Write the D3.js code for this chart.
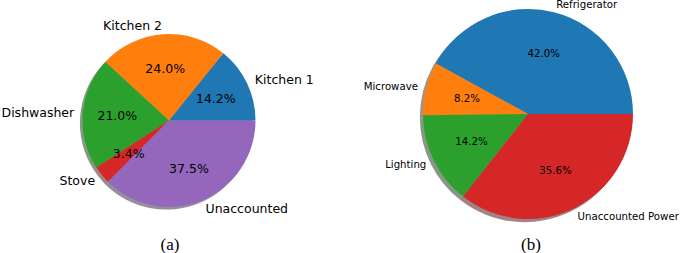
<!DOCTYPE html>
<html>
<head>
<meta charset="utf-8">
<script src="https://cdn.jsdelivr.net/npm/d3@7"></script>
<style>
  body { margin: 0; background: #fff; }
  svg { display: block; }
  text { font-family: "DejaVu Sans", sans-serif; fill: #000; }
  .caption { font-family: "Liberation Serif", "DejaVu Serif", serif; }
</style>
</head>
<body>
<svg id="wrapper" width="685" height="253"></svg>
<script>
// pie (a)
const labelsA = ['Kitchen 1', 'Kitchen 2', 'Dishwasher', 'Stove', 'Unaccounted'];
const valuesA = [14.2, 24.0, 21.0, 3.4, 37.5];
const colorsA = ['#1f77b4', '#ff7f0e', '#2ca02c', '#d62728', '#9467bd'];

// pie (b)
const labelsB = ['Refrigerator', 'Microwave', 'Lighting', 'Unaccounted Power'];
const valuesB = [42.0, 8.2, 14.2, 35.6];
const colorsB = ['#1f77b4', '#ff7f0e', '#2ca02c', '#d62728'];

const captions = ['(a)', '(b)'];

let svg = d3.select('#wrapper');

function drawPie(cfg) {
  let data = cfg.values.map((v, i) => ({label: cfg.labels[i], value: v, color: cfg.colors[i]}));
  // matplotlib style: start at 3 o'clock, go counterclockwise
  let pie = d3.pie()
    .sort(null)
    .value(d => d.value)
    .startAngle(Math.PI / 2)
    .endAngle(Math.PI / 2 - 2 * Math.PI);
  let arcs = pie(data);
  let r = cfg.r;
  let arc = d3.arc().innerRadius(0).outerRadius(r);

  let g = svg.append('g')
    .attr('transform', 'translate(' + cfg.cx + ',' + cfg.cy + ')');

  // shadow (down-left, darkened, half transparent)
  let off = 0.03 * r;
  g.append('g')
    .attr('transform', 'translate(' + (-off) + ',' + off + ')')
    .selectAll('path')
    .data(arcs)
    .join('path')
    .attr('d', arc)
    .attr('fill', d => {
      let c = d3.rgb(d.data.color);
      return d3.rgb(c.r * 0.3, c.g * 0.3, c.b * 0.3);
    })
    .attr('fill-opacity', 0.5);

  // wedges
  g.append('g')
    .selectAll('path')
    .data(arcs)
    .join('path')
    .attr('d', arc)
    .attr('fill', d => d.data.color);

  const mid = d => (d.startAngle + d.endAngle) / 2;
  const ld = cfg.labelDist;

  // outer labels
  g.append('g')
    .selectAll('text')
    .data(arcs)
    .join('text')
    .attr('x', d => ld * r * Math.sin(mid(d)))
    .attr('y', d => -ld * r * Math.cos(mid(d)))
    .attr('dy', '0.35em')
    .attr('text-anchor', d => Math.sin(mid(d)) > 0 ? 'start' : 'end')
    .style('font-size', cfg.fs + 'px')
    .text(d => d.data.label);

  // percentages
  g.append('g')
    .selectAll('text')
    .data(arcs)
    .join('text')
    .attr('x', d => 0.6 * r * Math.sin(mid(d)))
    .attr('y', d => -0.6 * r * Math.cos(mid(d)))
    .attr('dy', '0.35em')
    .attr('text-anchor', 'middle')
    .style('font-size', cfg.fs + 'px')
    .text(d => d.data.value.toFixed(1) + '%');

  svg.append('text')
    .attr('class', 'caption')
    .attr('x', cfg.capX)
    .attr('y', 250)
    .attr('text-anchor', 'middle')
    .style('font-size', '17px')
    .text(cfg.caption);
}

drawPie({labels: labelsA, values: valuesA, colors: colorsA,
  cx: 169, cy: 120.5, r: 86.5, labelDist: 1.1, fs: 12.5, capX: 170, caption: captions[0]});
drawPie({labels: labelsB, values: valuesB, colors: colorsB,
  cx: 528, cy: 114, r: 105, labelDist: 1.08, fs: 10.2, capX: 531, caption: captions[1]});
</script>
</body>
</html>
